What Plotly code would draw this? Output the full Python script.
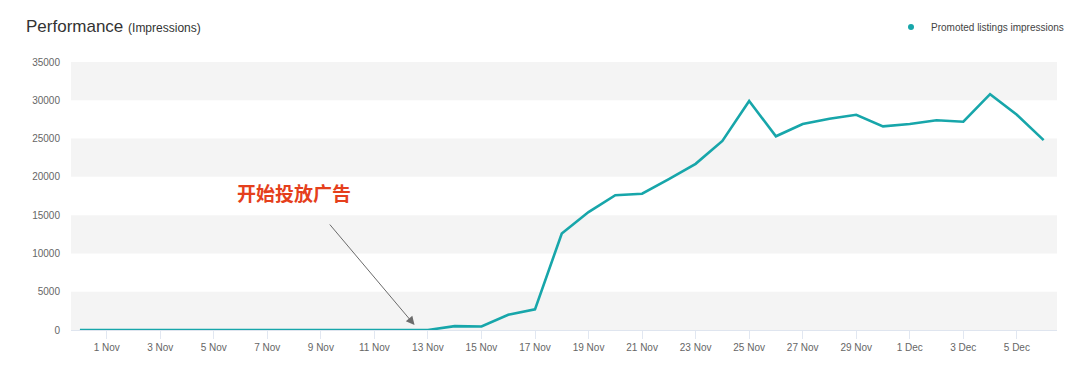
import plotly.graph_objects as go
import pandas as pd

dates = pd.date_range("2023-10-31", "2023-12-06", freq="D").strftime("%Y-%m-%d").tolist()
impressions = [0, 0, 0, 0, 0, 0, 0, 0, 0, 0, 0, 0, 0, 0,
               500, 450, 2000, 2700, 12600, 15400, 17600, 17800, 19700, 21700,
               24700, 29900, 25300, 26900, 27600, 28100, 26600, 26900, 27400,
               27200, 30800, 28100, 24800]
series_name = "Promoted listings impressions"
band_ranges = [(0, 5000), (10000, 15000), (20000, 25000), (30000, 35000)]
annotation_text = "开始投放广告"

TEAL = "#17a6aa"
W, H, OFF = 1072, 368, 8
fig = go.Figure()

for lo, hi in band_ranges:
    fig.add_shape(type="rect", xref="paper", yref="y", x0=0, x1=1, y0=lo, y1=hi,
                  fillcolor="#f4f4f4", line_width=0, layer="below")

fig.add_trace(go.Scatter(x=dates, y=impressions, mode="lines",
                         line=dict(color=TEAL, width=2.6), showlegend=False))
fig.add_trace(go.Scatter(x=[None], y=[None], mode="markers", name=series_name,
                         marker=dict(color=TEAL, size=6)))

fig.add_annotation(x="2023-11-12 12:00", y=650, ax=-86, ay=-102, xref="x", yref="y",
                   text="", showarrow=True, arrowhead=2, arrowsize=1.7, arrowwidth=1,
                   arrowcolor="#6b6b6b")
fig.add_annotation(x="2023-11-08", y=17900, xref="x", yref="y",
                   text="<b>" + annotation_text + "</b>",
                   showarrow=False,
                   font=dict(family="Noto Sans CJK SC", size=19, color="#e53f1c"))

fig.update_layout(
    width=W, height=H,
    margin=dict(l=63, r=23, t=54, b=46),
    paper_bgcolor="white", plot_bgcolor="white",
    font=dict(family="Liberation Sans, Arial, sans-serif", color="#666666", size=10),
    title=dict(text="Performance <span style='font-size:12px'>(Impressions)</span>",
               x=(26 - OFF) / W, xanchor="left", xref="container",
               y=1 - (26 - OFF) / H, yanchor="middle", yref="container",
               font=dict(size=17, color="#333333")),
    legend=dict(x=(1069 - OFF) / W, xref="container", xanchor="right",
                y=1 - (27 - OFF) / H, yref="container", yanchor="middle",
                orientation="h", font=dict(size=10, color="#444444"),
                bgcolor="rgba(0,0,0,0)", itemwidth=30),
    xaxis=dict(type="date", range=["2023-10-30 16:00", "2023-12-06 12:00"],
               tick0="2023-11-01", dtick=2*86400000, tickformat="%-d %b",
               showgrid=False, zeroline=False, showline=True, linecolor="#dfe5ef",
               ticks="outside", ticklen=8, tickcolor="#e1e7f1",
               tickfont=dict(size=10, color="#666666")),
    yaxis=dict(range=[0, 35000], dtick=5000, showgrid=False, zeroline=False,
               showline=False, tickformat="d", ticks="", ticklabelstandoff=10,
               tickfont=dict(size=10, color="#666666")),
)

fig.write_html("out.html")
